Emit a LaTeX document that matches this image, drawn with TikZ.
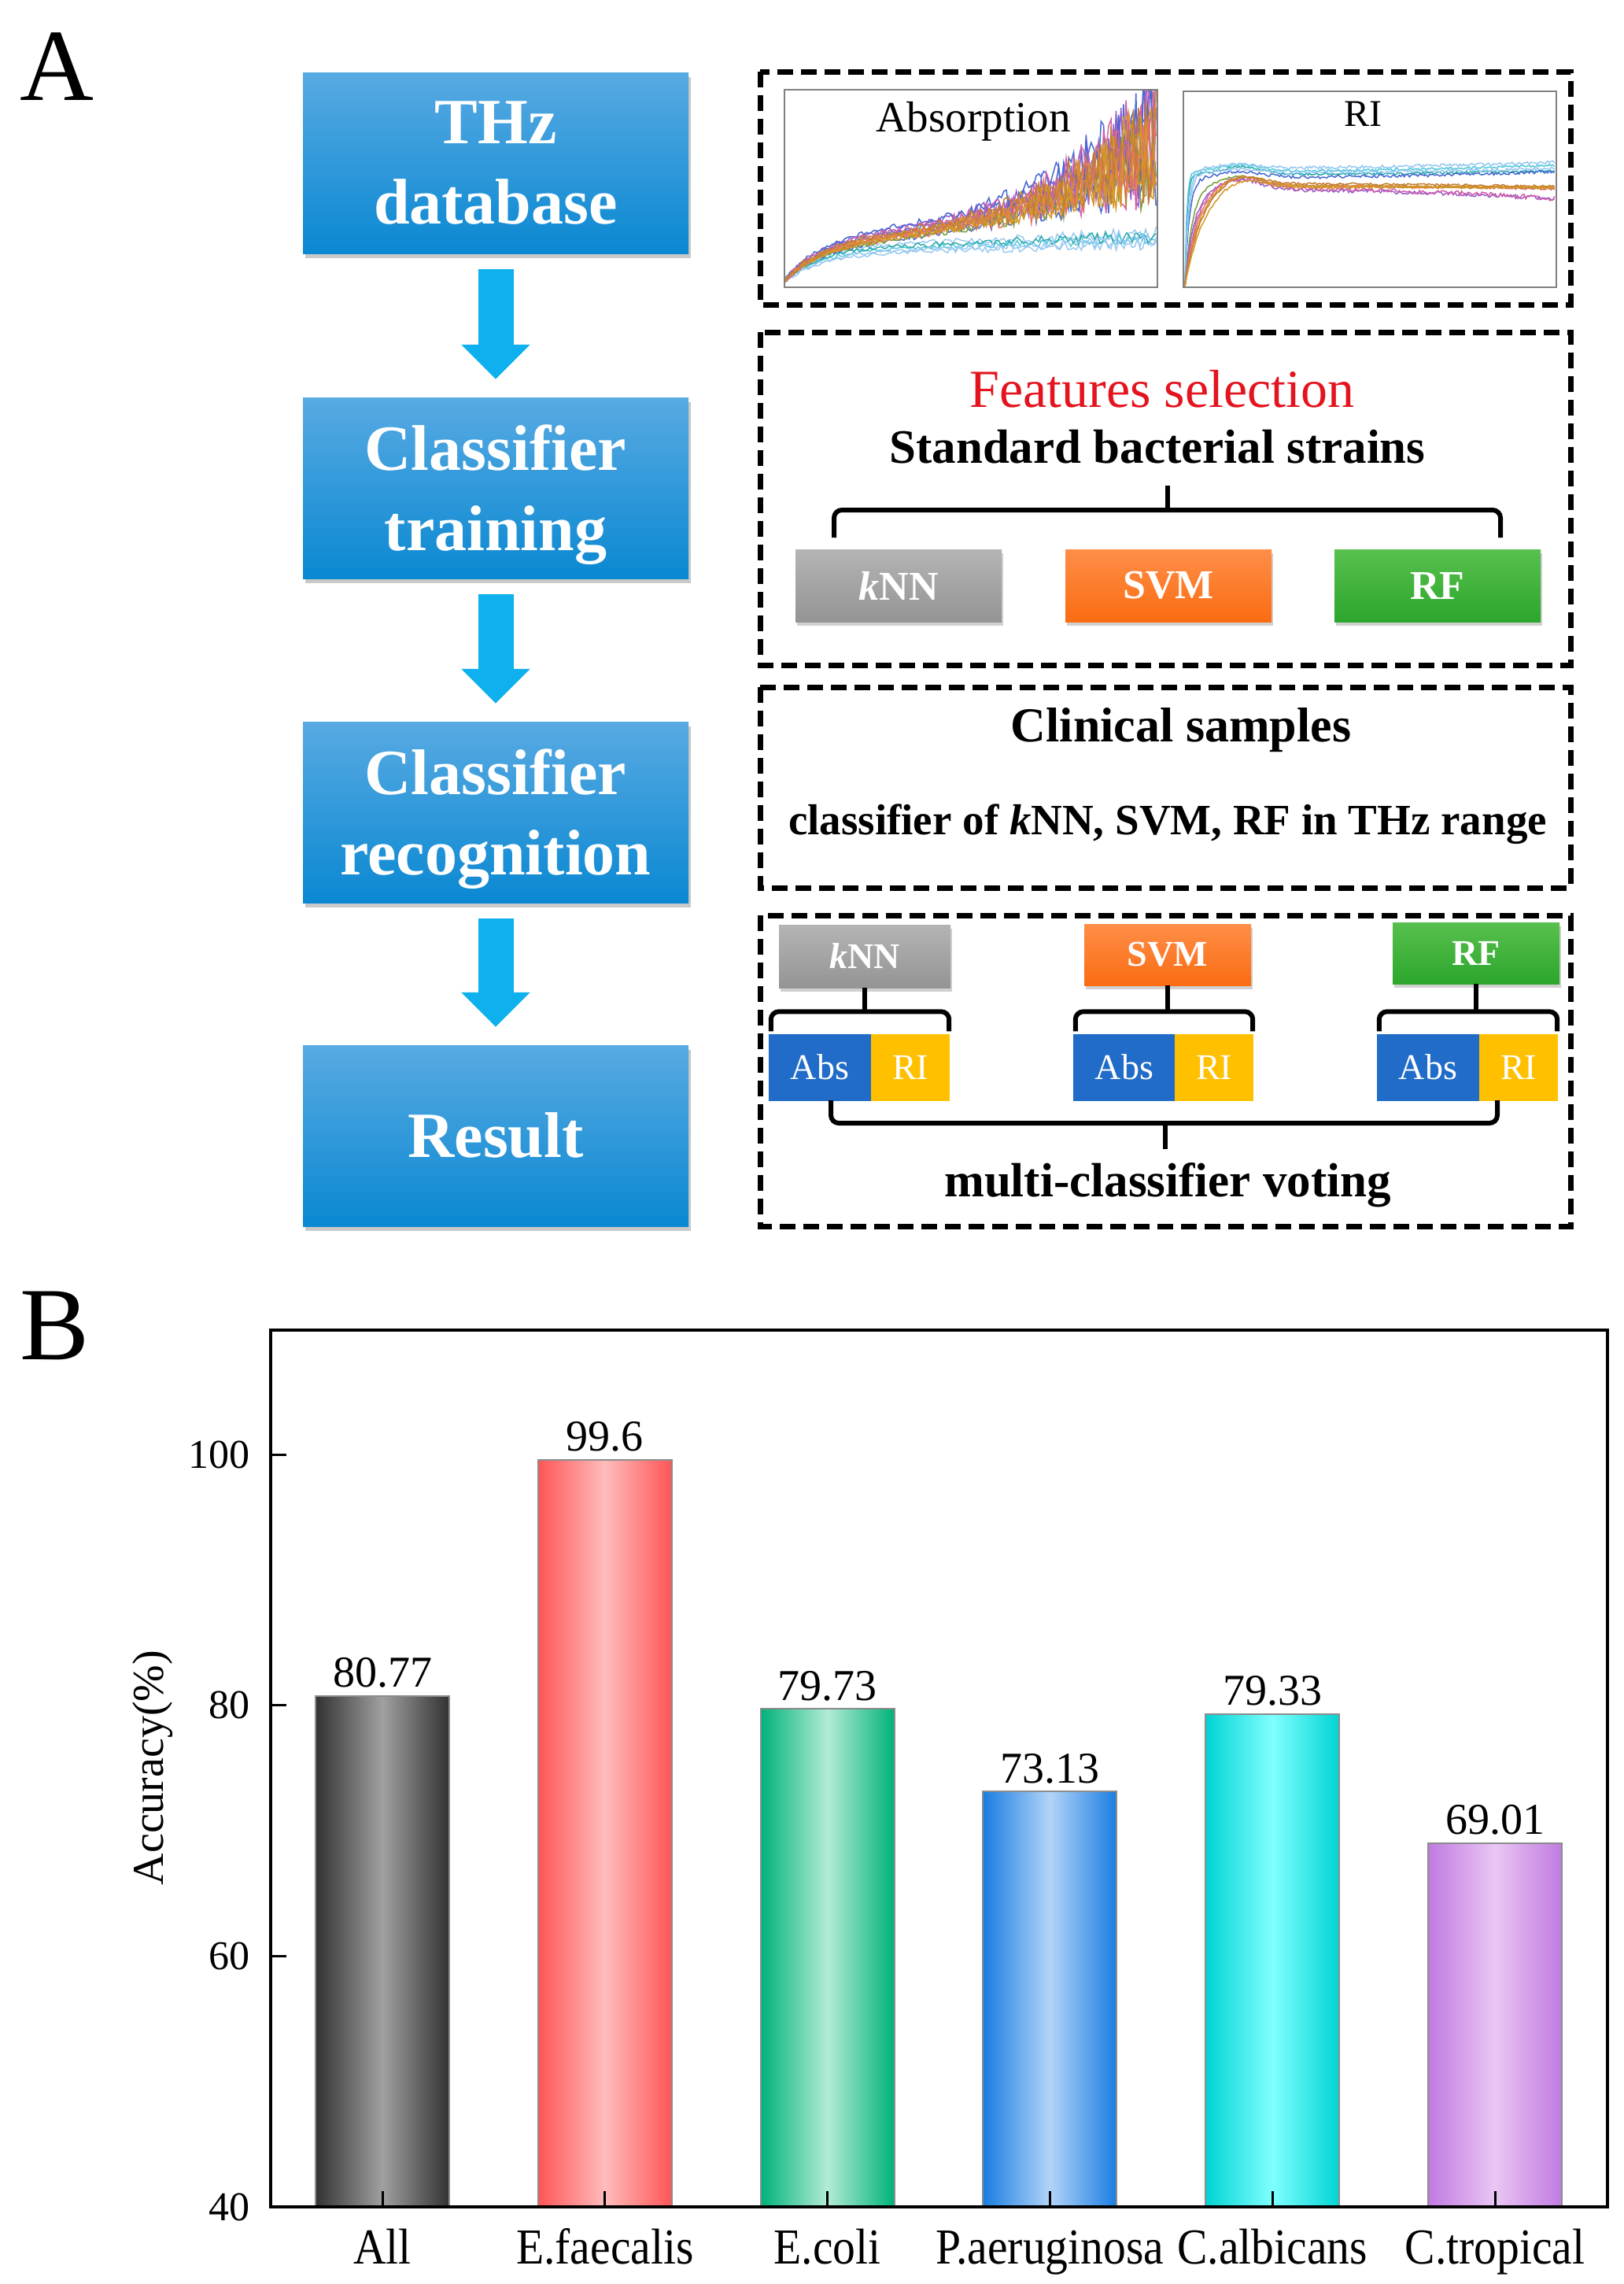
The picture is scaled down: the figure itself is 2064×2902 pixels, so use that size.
\documentclass[tikz,border=0pt]{standalone}
\usepackage{fontspec}
\usepackage{graphicx}
\setmainfont{Liberation Serif}
\usetikzlibrary{shadows,arrows.meta}
\definecolor{flowtop}{RGB}{88,170,226}
\definecolor{flowbot}{RGB}{10,136,210}
\definecolor{arrowc}{RGB}{14,176,238}
\definecolor{knntop}{RGB}{180,180,180}
\definecolor{knnbot}{RGB}{148,148,148}
\definecolor{svmtop}{RGB}{255,142,72}
\definecolor{svmbot}{RGB}{250,108,18}
\definecolor{rftop}{RGB}{88,192,78}
\definecolor{rfbot}{RGB}{44,166,44}
\definecolor{absc}{RGB}{32,108,200}
\definecolor{ric}{RGB}{255,192,0}
\definecolor{fsred}{RGB}{228,20,30}
% curve colours
\definecolor{cB}{RGB}{70,105,210}
\definecolor{cP}{RGB}{150,95,205}
\definecolor{cM}{RGB}{210,95,170}
\definecolor{cS}{RGB}{228,115,100}
\definecolor{cG}{RGB}{120,160,60}
\definecolor{cT}{RGB}{40,170,170}
\definecolor{cC}{RGB}{80,200,220}
\definecolor{cL}{RGB}{150,200,240}
\definecolor{cO}{RGB}{215,150,40}
\definecolor{cO2}{RGB}{195,125,50}
% bar colours
\definecolor{bAd}{RGB}{50,50,50}\definecolor{bAl}{RGB}{160,160,160}
\definecolor{bBd}{RGB}{255,85,85}\definecolor{bBl}{RGB}{255,188,188}
\definecolor{bCd}{RGB}{0,178,122}\definecolor{bCl}{RGB}{178,236,212}
\definecolor{bDd}{RGB}{25,125,225}\definecolor{bDl}{RGB}{178,212,248}
\definecolor{bEd}{RGB}{0,212,212}\definecolor{bEl}{RGB}{128,255,255}
\definecolor{bFd}{RGB}{192,122,225}\definecolor{bFl}{RGB}{234,198,244}
\newcommand\fsz[2]{\fontsize{#1}{#2}\selectfont}
\begin{document}
\begin{tikzpicture}[x=1pt,y=-1pt,
  flowbox/.style={minimum width=490pt, minimum height=230pt, inner sep=0pt,
    top color=flowtop, bottom color=flowbot, text=white, align=center,
    font=\fsz{82}{102}\bfseries,
    drop shadow={shadow xshift=3pt, shadow yshift=-6pt, opacity=0.35, fill=black!60}},
  flowarrow/.style={draw=arrowc, line width=45pt, -{Triangle[length=44pt, width=85pt]}},
  dbox/.style={draw=black, line width=7pt, dash pattern=on 20pt off 10pt},
  clsbox/.style={inner sep=0pt, text=white, font=\fsz{52}{60}\bfseries,
    drop shadow={shadow xshift=2pt, shadow yshift=-5pt, opacity=0.3, fill=black!60}},
  knnbox/.style={clsbox, top color=knntop, bottom color=knnbot},
  svmbox/.style={clsbox, top color=svmtop, bottom color=svmbot},
  rfbox/.style={clsbox, top color=rftop, bottom color=rfbot},
  absbox/.style={fill=absc, minimum width=130pt, minimum height=85pt, inner sep=0pt, text=white, font=\fsz{46}{54}},
  ribox/.style={fill=ric, minimum width=100pt, minimum height=85pt, inner sep=0pt, text=white, font=\fsz{46}{54}},
  bracel/.style={draw=black, line width=6pt, rounded corners=10pt},
  frameg/.style={draw=black!50, line width=2.5pt},
  barline/.style={draw=black!45, line width=2pt},
  valfont/.style={font=\fsz{56}{64}},
]
\useasboundingbox (0,0) rectangle (2064,2902);
\fill[white] (0,0) rectangle (2064,2902);

% ---------------- Panel A ----------------
\node[anchor=base, font=\fsz{130}{150}] (labA) at (72,127) {A};

\node[flowbox] (b1) at (630,207) {THz\\database};
\node[flowbox] (b2) at (630,620) {Classifier\\\smash{training}};
\node[flowbox] (b3) at (630,1032) {Classifier\\\smash{recognition}};
\node[flowbox] (b4) at (630,1443) {Result};
\draw[flowarrow] ([yshift=-20pt]b1.south) -- ([yshift=23pt]b2.north);
\draw[flowarrow] ([yshift=-20pt]b2.south) -- ([yshift=23pt]b3.north);
\draw[flowarrow] ([yshift=-20pt]b3.south) -- ([yshift=23pt]b4.north);

% dashed boxes
\draw[dbox] (966,91) rectangle (1996,387);
\draw[dbox] (966,422) rectangle (1996,845);
\draw[dbox] (966,873) rectangle (1996,1128);
\draw[dbox] (966,1163) rectangle (1996,1558);

% spectra plots
\begin{scope}
\clip (997,115) rectangle (1470,364);
\pgfmathsetseed{7}
\foreach \col/\k in {cL/1.0, cC/0.9, cL/0.8, cT/0.95, cL/0.85}{
  \draw[\col, line width=1.4pt] plot[domain=0:1, samples=140]
    ({997+473*\x}, {363 - \k*(6 + 45*(1-exp(-min(10*\x,9))) + 12*\x + 4*\x*\x*\x) + (2+8*\x*\x)*rand});
}
\foreach \col/\k/\nz in {cB/1.05/1, cP/1.0/1, cM/0.96/1, cB/0.9/0.9, cS/0.93/1, cG/0.9/0.8, cP/1.1/1, cB/1.15/1, cM/1.08/1, cO2/0.95/0.9, cO/1.0/0.9, cO/0.92/0.8, cS/1.0/0.8, cO/0.97/1, cO2/1.04/1}{
  \draw[\col, line width=1.5pt] plot[domain=0:1, samples=150]
    ({997+473*\x}, {363 - \k*(6 + 50*(1-exp(-min(10*\x,9))) + 30*\x + 100*\x*\x*\x) + \nz*(3+85*\x*\x*\x*\x)*rand});
}
\end{scope}
\begin{scope}
\clip (1505,117) rectangle (1977,364);
\foreach \col/\L/\tau/\P/\s/\nz in {cT/222/0.006/10/-5/1.5, cC/218/0.005/8/-8/1.5, cL/214/0.01/5/-8/2, cB/226/0.012/8/-8/2, cL/220/0.01/5/-6/2, cG/236/0.02/12/3/1.5, cP/240/0.025/12/12/2.5, cM/238/0.03/12/14/3, cS/236/0.035/12/4/1.5, cO/236/0.04/14/2/1.5, cO2/233/0.045/12/4/1.5, cO/238/0.05/13/0/1.5}{
  \draw[\col, line width=1.5pt] plot[domain=0:1, samples=220]
    ({1506+470*\x}, {\L + \s*\x*\x + (364-\L)*exp(-min(\x/\tau,9)) - \P*exp(-min((\x-0.15)*(\x-0.15)/0.0064,9)) + \nz*rand});
}
\end{scope}
\draw[frameg] (997,114) rectangle (1471,365);
\draw[frameg] (1504,116) rectangle (1978,365);
\node[anchor=base, font=\fsz{55}{64}] (absl) at (1237,167) {Absorption};
\node[anchor=base, font=\fsz{48}{56}] (ril) at (1732,160) {RI};

% features selection
\node[anchor=base, text=fsred, font=\fsz{68}{80}] (feat) at (1477,517) {Features selection};
\node[anchor=base, font=\fsz{61}{72}\bfseries] (std) at (1471,588) {Standard bacterial strains};
\coordinate (bt) at (1484,617);
\coordinate (bl) at (1060,683);
\coordinate (br) at (1907,683);
\draw[bracel] (bt) -- (1484,648);
\draw[bracel] (bl) -- (1060,648) -- (1907,648) -- (br);
\node[knnbox, minimum width=262pt, minimum height=92pt] (knnA) at (1142,744) {\textit{k}NN};
\node[svmbox, minimum width=262pt, minimum height=92pt] (svmA) at (1485,744) {SVM};
\node[rfbox, minimum width=262pt, minimum height=92pt] (rfA) at (1827,744) {RF};

% clinical samples
\node[anchor=base, font=\fsz{62}{72}\bfseries] (clin) at (1501,942) {Clinical samples};
\node[anchor=base, font=\fsz{55}{64}\bfseries] (clf) at (1484,1060) {classifier of \textit{k}NN, SVM, RF in THz range};

% voting
\node[knnbox, minimum width=218pt, minimum height=80pt, font=\fsz{46}{54}\bfseries] (knnB) at (1099,1215) {\textit{k}NN};
\node[svmbox, minimum width=212pt, minimum height=78pt, font=\fsz{46}{54}\bfseries] (svmB) at (1484,1213) {SVM};
\node[rfbox, minimum width=212pt, minimum height=78pt, font=\fsz{46}{54}\bfseries] (rfB) at (1876,1211) {RF};
\node[absbox] (abs1) at (1042,1356) {Abs};
\node[ribox] (ri1) at (1157,1356) {RI};
\node[absbox] (abs2) at (1429,1356) {Abs};
\node[ribox] (ri2) at (1543,1356) {RI};
\node[absbox] (abs3) at (1815,1356) {Abs};
\node[ribox] (ri3) at (1930,1356) {RI};
\draw[bracel] (knnB.south) -- (knnB.south |- 0,1285);
\draw[bracel] (svmB.south) -- (svmB.south |- 0,1285);
\draw[bracel] (rfB.south) -- (rfB.south |- 0,1285);
\draw[bracel] ([xshift=3pt,yshift=3pt]abs1.north west) -- ++(0,-25) -| ([xshift=-1pt,yshift=3pt]ri1.north east);
\draw[bracel] ([xshift=3pt,yshift=3pt]abs2.north west) -- ++(0,-25) -| ([xshift=-1pt,yshift=3pt]ri2.north east);
\draw[bracel] ([xshift=3pt,yshift=3pt]abs3.north west) -- ++(0,-25) -| ([xshift=-1pt,yshift=3pt]ri3.north east);
\node[anchor=base, font=\fsz{61}{72}\bfseries] (mcv) at (1484,1520) {multi-classifier voting};
\coordinate (vl) at (1056,1398);
\coordinate (vr) at (1903,1398);
\coordinate (vs) at (1481,1460);
\draw[bracel] (vl) -- (1056,1427) -- (1903,1427) -- (vr);
\draw[bracel] (1481,1427) -- (vs);

% ---------------- Panel B ----------------
\node[anchor=base, font=\fsz{132}{150}] (labB) at (70,1727) {B};

\foreach \i/\v/\lab/\dk/\lt in {0/80.77/All/bAd/bAl, 1/99.6/E.faecalis/bBd/bBl, 2/79.73/E.coli/bCd/bCl, 3/73.13/P.aeruginosa/bDd/bDl, 4/79.33/C.albicans/bEd/bEl, 5/69.01/C.tropical/bFd/bFl}{
  \pgfmathsetmacro\cx{486+282.8*\i}
  \pgfmathsetmacro\ty{2804-(\v-40)*15.93}
  \shade[left color=\dk, right color=\dk, middle color=\lt] (\cx-85,\ty) rectangle (\cx+85,2804);
  \draw[barline] (\cx-85,2804) -- (\cx-85,\ty) -- (\cx+85,\ty) -- (\cx+85,2804);
  \node[anchor=base, valfont] (val\i) at (\cx,\ty-11) {\v};
  \node[anchor=base, font=\fsz{64}{72}] (lab\i) at (\cx,2876) {\scalebox{0.9}[1]{\lab}};
  \draw[line width=3pt] (\cx,2804) -- (\cx,2784);
}
\foreach \t in {40,60,80,100}{
  \pgfmathsetmacro\ty{2804-(\t-40)*15.93}
  \draw[line width=3pt] (344,\ty) -- (364,\ty);
  \node[anchor=east, font=\fsz{52}{60}, inner sep=0pt] (tk\t) at (318,\ty) {\t};
}
\draw[line width=4pt] (344,1690) rectangle (2043,2804);
\node[rotate=90, font=\fsz{56}{64}] (ylab) at (194,2246) {Accuracy(\%)};
\end{tikzpicture}
\end{document}
